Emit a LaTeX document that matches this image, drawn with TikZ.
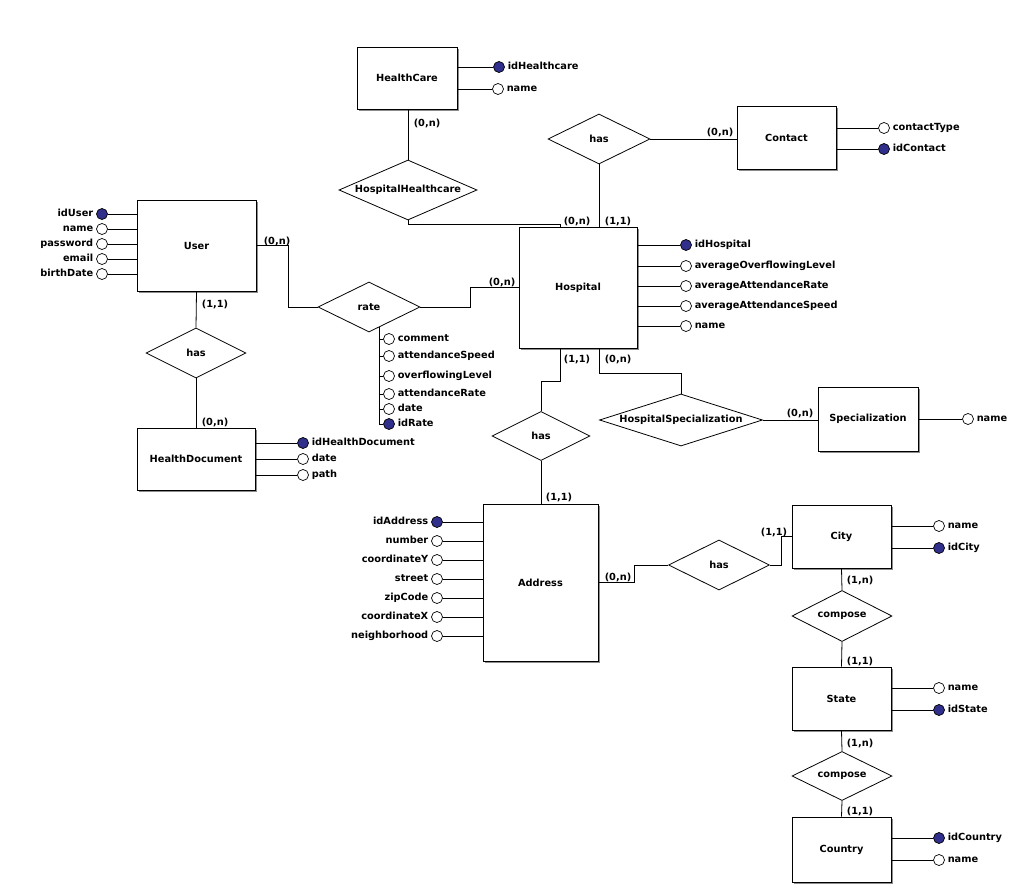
\documentclass[tikz,border=0pt]{standalone}
\usepackage{fontspec}
\setmainfont{DejaVu Sans}
\usetikzlibrary{shapes.geometric,shadows,calc}
\definecolor{keyblue}{RGB}{48,48,140}
\tikzset{
  base/.style={font=\bfseries\fontsize{9.8}{11}\selectfont},
  entity/.style 2 args={base, draw, fill=white, minimum width=#1, minimum height=#2, inner sep=0pt,
    drop shadow={shadow xshift=2pt,shadow yshift=-2pt,fill=black!45,opacity=1}},
  rel/.style n args={3}{base, diamond, draw, fill=white, inner sep=0pt, minimum width=#1, minimum height=#2, aspect=#3},
  attr/.style={circle, draw, line width=0.7pt, fill=white, minimum size=11pt, inner sep=0pt},
  key/.style={attr, fill=keyblue},
  lbl/.style={base, inner sep=0pt, text height=7.2pt, text depth=2pt},
  card/.style={base, inner sep=0pt},
}
\begin{document}
\begin{tikzpicture}[x=1pt,y=-1pt,line width=0.8pt,label distance=2.5pt]
\fill[white] (0,0) rectangle (1021,888);
\useasboundingbox (0,0) rectangle (1021,888);

% entities
\node[entity={100pt}{62pt}] (HC) at (407,78) {HealthCare};
\node[entity={99pt}{63pt}] (Ct) at (786.5,137.5) {Contact};
\node[entity={119pt}{91pt}] (U) at (196.5,245.5) {User};
\node[entity={118pt}{121pt}] (H) at (578,287.5) {Hospital};
\node[entity={118pt}{62pt}] (HD) at (196,459) {HealthDocument};
\node[entity={100pt}{64pt}] (Sp) at (868,419) {Specialization};
\node[entity={115pt}{157pt}] (A) at (540.5,582.5) {Address};
\node[entity={99pt}{63pt}] (Ci) at (841.5,536.5) {City};
\node[entity={99pt}{63pt}] (St) at (841.5,698.5) {State};
\node[entity={99pt}{65pt}] (Co) at (841.5,849.5) {Country};

% relationships
\node[rel={138pt}{60pt}{2.3}] (HH) at (408,190) {HospitalHealthcare};
\node[rel={102pt}{50pt}{2}] (hC) at (599,139) {has};
\node[rel={102pt}{50pt}{2}] (R) at (369,307) {rate};
\node[rel={100pt}{50pt}{2}] (hU) at (196,353) {has};
\node[rel={98pt}{49pt}{2}] (hA) at (541,436) {has};
\node[rel={163pt}{52pt}{3.1}] (HS) at (681,420) {HospitalSpecialization};
\node[rel={101pt}{50pt}{2}] (hCi) at (719,565) {has};
\node[rel={100pt}{51pt}{2}] (cp1) at (842,616) {compose};
\node[rel={100pt}{49pt}{2}] (cp2) at (842,776) {compose};

% attributes: HealthCare
\node[key,label={[lbl]right:idHealthcare}] (hc1) at (499,67) {};
\node[attr,label={[lbl]right:name}] (hc2) at (498,89) {};
\foreach \a in {hc1,hc2} \draw (\a.west) -- (\a.west -| HC.east);
% Contact
\node[attr,label={[lbl]right:contactType}] (ct1) at (884,128) {};
\node[key,label={[lbl]right:idContact}] (ct2) at (884,149) {};
\foreach \a in {ct1,ct2} \draw (\a.west) -- (\a.west -| Ct.east);
% Hospital
\node[key,label={[lbl]right:idHospital}] (h1) at (686,245) {};
\node[attr,label={[lbl]right:averageOverflowingLevel}] (h2) at (686,266) {};
\node[attr,label={[lbl]right:averageAttendanceRate}] (h3) at (686,286) {};
\node[attr,label={[lbl]right:averageAttendanceSpeed}] (h4) at (686,306) {};
\node[attr,label={[lbl]right:name}] (h5) at (686,326) {};
\foreach \a in {h1,h2,h3,h4,h5} \draw (\a.west) -- (\a.west -| H.east);
% User
\node[key,label={[lbl]left:idUser}] (u1) at (102,214) {};
\node[attr,label={[lbl]left:name}] (u2) at (102,229) {};
\node[attr,label={[lbl]left:password}] (u3) at (102,244) {};
\node[attr,label={[lbl]left:email}] (u4) at (102,259) {};
\node[attr,label={[lbl]left:birthDate}] (u5) at (102,274) {};
\foreach \a in {u1,u2,u3,u4,u5} \draw (\a.east) -- (\a.east -| U.west);
% HealthDocument
\node[key,label={[lbl]right:idHealthDocument}] (d1) at (303,443) {};
\node[attr,label={[lbl]right:date}] (d2) at (303,459) {};
\node[attr,label={[lbl]right:path}] (d3) at (303,475) {};
\foreach \a in {d1,d2,d3} \draw (\a.west) -- (\a.west -| HD.east);
% rate
\node[attr,label={[lbl]right:comment}] (r1) at (389,339) {};
\node[attr,label={[lbl]right:attendanceSpeed}] (r2) at (389,356) {};
\node[attr,label={[lbl]right:overflowingLevel}] (r3) at (389,376) {};
\node[attr,label={[lbl]right:attendanceRate}] (r4) at (389,394) {};
\node[attr,label={[lbl]right:date}] (r5) at (389,409) {};
\node[key,label={[lbl]right:idRate}] (r6) at (389,424) {};
\coordinate (rt) at ($(R.south)!0.2!(R.east)$);
\draw (rt) |- (r6.west);
\foreach \a in {r1,r2,r3,r4,r5} \draw (rt |- \a) -- (\a.west);
% Specialization
\node[attr,label={[lbl]right:name}] (s1) at (968,419) {};
\draw (s1.west) -- (s1.west -| Sp.east);
% Address
\node[key,label={[lbl]left:idAddress}] (a1) at (437,522) {};
\node[attr,label={[lbl]left:number}] (a2) at (437,541) {};
\node[attr,label={[lbl]left:coordinateY}] (a3) at (437,560) {};
\node[attr,label={[lbl]left:street}] (a4) at (437,579) {};
\node[attr,label={[lbl]left:zipCode}] (a5) at (437,598) {};
\node[attr,label={[lbl]left:coordinateX}] (a6) at (437,617) {};
\node[attr,label={[lbl]left:neighborhood}] (a7) at (437,636) {};
\foreach \a in {a1,a2,a3,a4,a5,a6,a7} \draw (\a.east) -- (\a.east -| A.west);
% City
\node[attr,label={[lbl]right:name}] (ci1) at (939,526) {};
\node[key,label={[lbl]right:idCity}] (ci2) at (939,548) {};
\foreach \a in {ci1,ci2} \draw (\a.west) -- (\a.west -| Ci.east);
% State
\node[attr,label={[lbl]right:name}] (st1) at (939,688) {};
\node[key,label={[lbl]right:idState}] (st2) at (939,710) {};
\foreach \a in {st1,st2} \draw (\a.west) -- (\a.west -| St.east);
% Country
\node[key,label={[lbl]right:idCountry}] (co1) at (939,838) {};
\node[attr,label={[lbl]right:name}] (co2) at (939,860) {};
\foreach \a in {co1,co2} \draw (\a.west) -- (\a.west -| Co.east);

% relationship connectors
\draw (HH.north |- HC.south) -- (HH.north);
\draw (HH.south) -- ++(0,4) -| ([xshift=-18pt]H.north);
\draw (hC.south) -- (hC.south |- H.north);
\draw (hC.east) -- (hC.east -| Ct.west);
\draw (U.east) -- ++(32,0) |- (R.west);
\draw (R.east) -- ++(50,0) |- (H.west);
\draw (U.south) -- (hU.north);
\draw (hU.south) -- (HD.north);
\draw ([xshift=-18pt]H.south) -- ++(0,33) -| (hA.north);
\draw ([xshift=21pt]H.south) -- ++(0,25) -| (HS.north);
\draw (HS.east) -- (HS.east -| Sp.west);
\draw (hA.south) -- (hA.south |- A.north);
\draw (A.east) -- ++(36,0) |- (hCi.west);
\draw (hCi.east) -- ++(11,0) |- (Ci.west);
\draw (Ci.south) -- (cp1.north);
\draw (cp1.south) -- (St.north);
\draw (St.south) -- (cp2.north);
\draw (cp2.south) -- (Co.north);

% cardinalities
\node[card] (k1) at (427,123) {(0,n)};
\node[card] (k2) at (577,221) {(0,n)};
\node[card] (k3) at (618,221) {(1,1)};
\node[card] (k4) at (720,132) {(0,n)};
\node[card] (k5) at (277,241) {(0,n)};
\node[card] (k6) at (502,282) {(0,n)};
\node[card] (k7) at (215,304) {(1,1)};
\node[card] (k8) at (215,422) {(0,n)};
\node[card] (k9) at (577,359) {(1,1)};
\node[card] (k10) at (618,359) {(0,n)};
\node[card] (k11) at (800,413) {(0,n)};
\node[card] (k12) at (559,497) {(1,1)};
\node[card] (k13) at (618,577) {(0,n)};
\node[card] (k14) at (774,532) {(1,1)};
\node[card] (k15) at (860,580) {(1,n)};
\node[card] (k16) at (860,661) {(1,1)};
\node[card] (k17) at (860,743) {(1,n)};
\node[card] (k18) at (860,811) {(1,1)};
\end{tikzpicture}
\end{document}
